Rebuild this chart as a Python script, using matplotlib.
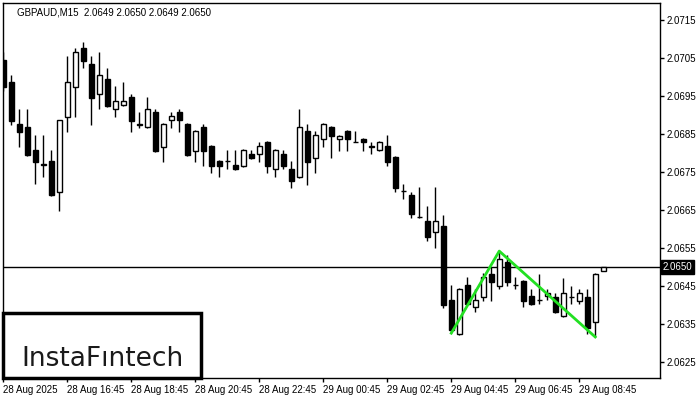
import numpy as np
import matplotlib
matplotlib.use("Agg")
import matplotlib.pyplot as plt
from matplotlib.patches import Rectangle

matplotlib.rcParams["font.family"] = ["Liberation Sans", "DejaVu Sans"]
matplotlib.rcParams["font.size"] = 7

# GBPAUD M15 candles (one per bar, oldest first)
opens = [2.07045, 2.06987, 2.06876, 2.06868, 2.06808, 2.06768, 2.06779, 2.06697, 2.06895, 2.06974,
         2.07076, 2.07034, 2.06955, 2.06995, 2.06916, 2.06926, 2.06947, 2.06876, 2.06868, 2.06908,
         2.06816, 2.06887, 2.06908, 2.06876, 2.06805, 2.06868, 2.06818, 2.06779, 2.06779, 2.06768,
         2.06766, 2.06797, 2.06797, 2.06829, 2.06758, 2.06797, 2.06758, 2.06737, 2.06858, 2.06787,
         2.06837, 2.06868, 2.06837, 2.06858, 2.06829, 2.06837, 2.06818, 2.06808, 2.06818, 2.06789,
         2.06700, 2.06689, 2.06632, 2.06621, 2.06592, 2.06608, 2.06413, 2.06324, 2.06453, 2.06395,
         2.06421, 2.06482, 2.06450, 2.06513, 2.06453, 2.06463, 2.06424, 2.06413, 2.06424, 2.06421,
         2.06371, 2.06421, 2.06410, 2.06421, 2.06355, 2.06490]
highs = [2.07066, 2.07005, 2.06916, 2.06916, 2.06847, 2.06847, 2.06808, 2.06887, 2.07055, 2.07076,
         2.07092, 2.07055, 2.07066, 2.07024, 2.06976, 2.06987, 2.06955, 2.06908, 2.06947, 2.06916,
         2.06878, 2.06908, 2.06916, 2.06878, 2.06860, 2.06876, 2.06820, 2.06781, 2.06808, 2.06808,
         2.06810, 2.06808, 2.06829, 2.06831, 2.06810, 2.06808, 2.06779, 2.06916, 2.06876, 2.06858,
         2.06878, 2.06870, 2.06847, 2.06860, 2.06858, 2.06839, 2.06829, 2.06831, 2.06847, 2.06791,
         2.06718, 2.06697, 2.06710, 2.06660, 2.06710, 2.06637, 2.06453, 2.06444, 2.06474, 2.06442,
         2.06484, 2.06500, 2.06542, 2.06532, 2.06474, 2.06465, 2.06442, 2.06482, 2.06442, 2.06432,
         2.06471, 2.06450, 2.06442, 2.06442, 2.06484, 2.06500]
lows = [2.06963, 2.06874, 2.06816, 2.06793, 2.06718, 2.06737, 2.06687, 2.06647, 2.06855, 2.06895,
        2.07024, 2.06874, 2.06916, 2.06921, 2.06895, 2.06924, 2.06855, 2.06866, 2.06866, 2.06803,
        2.06776, 2.06866, 2.06855, 2.06793, 2.06776, 2.06766, 2.06747, 2.06737, 2.06758, 2.06756,
        2.06764, 2.06785, 2.06776, 2.06747, 2.06737, 2.06758, 2.06708, 2.06735, 2.06716, 2.06747,
        2.06816, 2.06787, 2.06805, 2.06805, 2.06828, 2.06805, 2.06797, 2.06806, 2.06766, 2.06697,
        2.06679, 2.06629, 2.06630, 2.06568, 2.06550, 2.06392, 2.06326, 2.06322, 2.06400, 2.06382,
        2.06410, 2.06410, 2.06442, 2.06450, 2.06442, 2.06395, 2.06401, 2.06403, 2.06413, 2.06380,
        2.06369, 2.06403, 2.06403, 2.06324, 2.06316, 2.06490]
closes = [2.06974, 2.06884, 2.06855, 2.06795, 2.06776, 2.06770, 2.06690, 2.06887, 2.06987, 2.07066,
          2.07042, 2.06945, 2.07005, 2.06924, 2.06937, 2.06937, 2.06884, 2.06875, 2.06916, 2.06805,
          2.06876, 2.06897, 2.06887, 2.06795, 2.06858, 2.06805, 2.06766, 2.06766, 2.06778, 2.06758,
          2.06808, 2.06787, 2.06818, 2.06766, 2.06808, 2.06766, 2.06726, 2.06868, 2.06776, 2.06847,
          2.06876, 2.06845, 2.06845, 2.06837, 2.06830, 2.06829, 2.06817, 2.06829, 2.06776, 2.06708,
          2.06699, 2.06639, 2.06631, 2.06579, 2.06621, 2.06400, 2.06334, 2.06442, 2.06403, 2.06413,
          2.06474, 2.06461, 2.06521, 2.06461, 2.06452, 2.06410, 2.06403, 2.06412, 2.06432, 2.06382,
          2.06432, 2.06420, 2.06432, 2.06339, 2.06482, 2.06500]

x_labels = ["28 Aug 2025", "28 Aug 16:45", "28 Aug 18:45", "28 Aug 20:45", "28 Aug 22:45",
            "29 Aug 00:45", "29 Aug 02:45", "29 Aug 04:45", "29 Aug 06:45", "29 Aug 08:45"]
x_label_bars = [0, 8, 16, 24, 32, 40, 48, 56, 64, 72]
y_ticks = [2.0625, 2.0635, 2.0645, 2.0655, 2.0665, 2.0675, 2.0685, 2.0695, 2.0705, 2.0715]
last_price = 2.0650

# double top pattern drawn in green
pattern_bars = [56, 62, 74]
pattern_prices = [2.06326, 2.06542, 2.06316]

fig = plt.figure(figsize=(7, 4), dpi=100)
ax = fig.add_axes([0.0039, 0.055, 0.939, 0.938])

n = len(opens)
xs = np.arange(n)
o = np.array(opens)
c = np.array(closes)
bull = c >= o

ax.vlines(xs, lows, highs, color="black", linewidth=1, zorder=2)
bottoms = np.minimum(o, c)
heights = np.maximum(np.abs(c - o), 0.000005)
ax.bar(xs, heights, bottom=bottoms, width=0.6,
       color=np.where(bull, "white", "black"), edgecolor="black", linewidth=1, zorder=3)

ax.axhline(last_price, color="black", linewidth=1, zorder=1)
ax.plot(pattern_bars, pattern_prices, color="#22e022", linewidth=2, zorder=4)

ymin, ymax = 2.06208, 2.071955
ax.set_xlim(-0.08, 82.1)
ax.set_ylim(ymin, ymax)

ax.yaxis.tick_right()
ax.set_yticks(y_ticks)
ax.set_yticklabels([f"{v:.4f}" for v in y_ticks])
ax.set_xticks(x_label_bars)
ax.set_xticklabels(x_labels, ha="left")
ax.tick_params(axis="both", direction="out", length=3, width=1, pad=2, labelsize=7)
for s in ax.spines.values():
    s.set_linewidth(1)

ax.text(1.004, (last_price - ymin) / (ymax - ymin), f"{last_price:.4f}",
        transform=ax.transAxes, ha="left", va="center", color="white", fontsize=7,
        bbox=dict(boxstyle="square,pad=0.2", facecolor="black", edgecolor="black"), zorder=5)

ax.text(0.022, 0.975, "GBPAUD,M15  2.0649 2.0650 2.0649 2.0650", transform=ax.transAxes,
        ha="left", va="center", fontsize=7)

logo = Rectangle((3 / 700, 22 / 400), 198 / 700, 65 / 400, transform=fig.transFigure,
                 facecolor="white", edgecolor="black", linewidth=2.5, zorder=10)
fig.patches.append(logo)
fig.text(102 / 700, 41 / 400, "InstaF\u0131ntech", ha="center", va="center",
         fontsize=19, color="#1a1a1a", fontfamily="DejaVu Sans", zorder=11)

fig.savefig("out.png", dpi=100)
